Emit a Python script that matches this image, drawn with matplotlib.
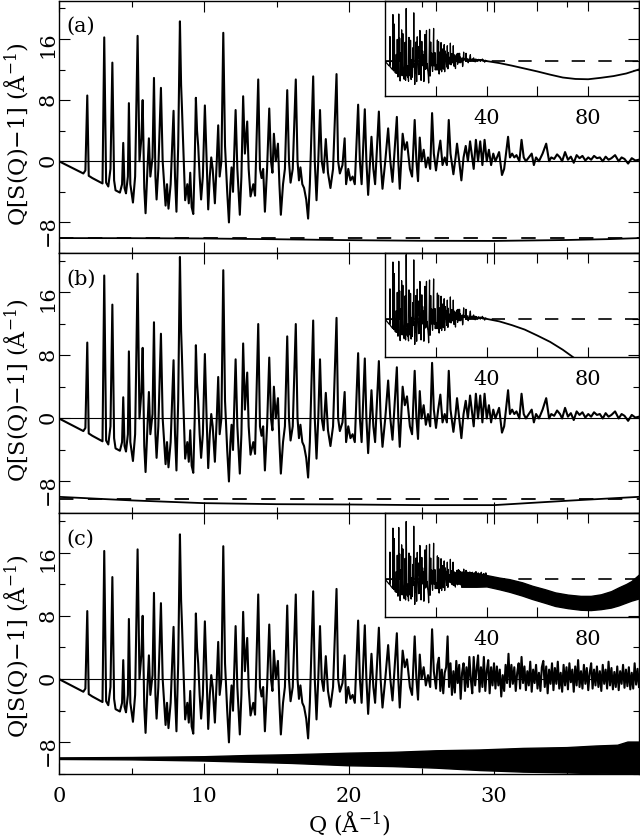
import matplotlib
matplotlib.use('Agg')
import matplotlib.pyplot as plt
import numpy as np
from matplotlib.ticker import FixedLocator, MultipleLocator, NullFormatter

plt.rcParams['font.family'] = 'DejaVu Serif'
plt.rcParams['mathtext.fontset'] = 'dejavuserif'

# main curve Q[S(Q)-1], panel (a) (peaks and troughs)
q_main = [
    0.00, 1.68, 1.82, 1.95, 2.05, 2.30, 2.70, 3.00, 3.12, 3.25,
    3.40, 3.55, 3.68, 3.80, 3.90, 4.20, 4.35, 4.43, 4.52, 4.62,
    4.75, 4.82, 4.92, 5.10, 5.25, 5.42, 5.55, 5.68, 5.77, 5.88,
    5.97, 6.10, 6.20, 6.30, 6.45, 6.55, 6.65, 6.73, 6.85, 7.03,
    7.15, 7.25, 7.35, 7.45, 7.55, 7.70, 7.90, 8.00, 8.10, 8.22,
    8.34, 8.42, 8.48, 8.55, 8.70, 8.85, 8.95, 9.05, 9.15, 9.26,
    9.36, 9.44, 9.52, 9.60, 9.70, 9.80, 9.92, 10.06, 10.18, 10.29,
    10.40, 10.50, 10.60, 10.75, 10.88, 10.98, 11.08, 11.20, 11.33, 11.45,
    11.60, 11.72, 11.82, 11.90, 12.00, 12.18, 12.30, 12.47, 12.58, 12.70,
    12.82, 12.98, 13.08, 13.21, 13.40, 13.52, 13.74, 13.86, 13.97, 14.08,
    14.20, 14.35, 14.50, 14.62, 14.72, 14.82, 14.95, 15.10, 15.20, 15.30,
    15.45, 15.58, 15.74, 15.86, 15.97, 16.12, 16.33, 16.45, 16.55, 16.65,
    16.78, 16.90, 17.05, 17.18, 17.30, 17.53, 17.64, 17.76, 17.88, 18.00,
    18.12, 18.25, 18.40, 18.55, 18.72, 18.90, 19.14, 19.25, 19.37, 19.55,
    19.70, 19.80, 19.95, 20.10, 20.25, 20.40, 20.63, 20.75, 20.87, 21.09,
    21.20, 21.32, 21.55, 21.68, 21.80, 22.06, 22.18, 22.31, 22.50, 22.70,
    22.85, 23.00, 23.30, 23.40, 23.50, 23.70, 23.85, 24.00, 24.20, 24.35,
    24.53, 24.65, 24.76, 24.88, 25.00, 25.15, 25.30, 25.45, 25.60, 25.73,
    25.85, 26.00, 26.15, 26.30, 26.45, 26.60, 26.75, 26.88, 27.00, 27.20,
    27.35, 27.45, 27.60, 27.75, 27.90, 28.05, 28.20, 28.35, 28.50, 28.60,
    28.75, 28.90, 29.05, 29.20, 29.35, 29.50, 29.65, 29.80, 29.95, 30.10,
    30.35, 30.55, 30.70, 30.97, 31.10, 31.25, 31.40, 31.55, 31.75, 31.90,
    32.05, 32.20, 32.40, 32.60, 32.75, 32.90, 33.10, 33.35, 33.60, 33.80,
    33.95, 34.15, 34.35, 34.55, 34.70, 34.90, 35.10, 35.30, 35.50, 35.70,
    35.90, 36.10, 36.30, 36.50, 36.70, 36.90, 37.10, 37.30, 37.50, 37.70,
    37.90, 38.10, 38.35, 38.60, 38.80, 39.00, 39.25, 39.50, 39.75, 40.00]
s_main = [
    0.0, -1.6, -1.2, 8.6, -1.9, -2.2, -2.6, -2.9, 16.2, -2.8,
    -3.3, -1.0, 12.9, -2.5, -3.8, -4.1, -3.0, 2.4, -3.5, -4.2,
    -2.0, 7.6, -3.0, -5.4, -2.0, 16.4, 0.0, 3.0, 8.0, -3.5,
    -6.8, -1.0, 3.0, -2.0, 0.5, 10.9, -2.0, -5.0, -1.0, 9.6,
    0.0, -3.0, -5.8, -3.0, -6.2, -3.0, 6.6, -2.0, -6.6, 2.0,
    18.3, 10.0, 7.0, 3.0, -5.1, -3.0, -5.5, -1.5, -6.0, -6.9,
    0.0, 8.3, 4.0, 2.0, -2.0, -5.0, -2.0, 7.3, 0.0, -6.3,
    -2.0, 0.5, -1.0, -5.5, 0.0, 4.7, -2.0, 0.0, 16.8, 2.0,
    -4.0, -8.0, -3.0, -0.8, -4.0, 6.7, -1.0, -7.0, -2.0, 8.5,
    1.0, 5.2, -1.0, -4.6, -3.0, -4.5, 10.7, -1.0, -2.2, -1.0,
    -6.6, -1.0, 6.9, 0.0, -1.5, 3.6, 0.0, 2.3, -3.0, -7.0,
    -3.0, -1.0, 9.3, 0.0, -2.8, -1.0, 10.7, 0.0, -2.5, -0.8,
    -3.0, -3.5, -5.0, -7.5, -3.0, 11.1, 0.0, -5.1, 0.0, 6.7,
    0.0, -1.5, 2.9, -1.5, -3.5, -1.0, 11.4, 0.0, -1.6, -0.5,
    3.0, -3.0, -1.0, -2.5, -2.0, -3.0, 7.4, 0.0, -3.0, 6.8,
    0.0, -4.4, 3.2, -1.0, -3.0, 6.5, 0.0, -3.6, 0.0, 4.3,
    0.0, -2.7, 5.8, 0.0, -3.6, 3.6, 1.5, 2.5, -1.0, -2.0,
    5.4, 0.0, -2.6, 3.1, 0.0, 1.5, -0.8, 0.5, -1.0, 6.3,
    1.0, -1.2, 1.0, 2.7, -0.5, 0.5, -0.5, 5.4, 1.0, -1.7,
    0.5, 2.3, 0.0, -2.5, 0.5, 2.0, 0.0, 2.6, 0.5, -1.0,
    2.8, 0.0, 2.6, -0.5, 2.8, 0.0, 1.5, -0.5, 1.0, 0.0,
    1.2, -1.8, -1.0, 3.2, 0.5, 1.0, 0.5, 0.8, 0.0, 2.8,
    0.5, 0.0, 0.5, 1.0, -0.5, 0.5, 0.0, 1.0, 2.3, 0.0,
    0.5, 0.3, 0.9, 0.5, 0.0, 1.2, 0.2, 0.6, -0.2, 0.8,
    0.4, 0.7, 0.1, 0.5, 0.2, 0.7, 0.4, 0.5, 0.0, 0.6,
    0.2, 0.4, 0.8, 0.0, 0.5, 0.3, -0.3, 0.4, 0.1, 0.2]

# panel (b): positive peaks read about 12 % taller than in (a)
b_peak_scale = 1.12

# panel (c): noisy tail above Q = 26, sampled every 0.1
q_c_tail = np.round(np.arange(26.0, 40.05, 0.1), 2)
s_c_tail = [
    -1.2, 1.8, 2.7, -1.5, 1.2, -1.8, 0.8, 1.5, 5.4, -1.0, 2.0,
    -2.0, 1.0, -1.7, 2.3, -0.5, 1.8, -2.5, 0.8, 2.0, -1.5,
    1.5, -1.0, 2.8, 0.0, -1.8, 2.8, -0.8, 1.2, 3.0, -1.6,
    1.5, -1.0, 2.8, -1.5, 1.0, 2.4, -1.8, 1.5, -0.8, 2.0,
    -1.2, 1.6, -0.8, 1.2, -2.2, 0.5, -1.5, 1.8, -0.5, 3.2,
    -1.0, 1.8, -0.6, 1.5, -1.5, 0.8, 2.0, -1.2, 2.8, -0.5,
    1.6, -1.4, 1.0, -0.8, 2.2, -1.6, 1.2, -0.5, 1.8, -1.2,
    0.8, -1.5, 1.5, 2.3, -1.0, 1.6, -1.8, 1.2, -0.6, 2.0,
    -1.4, 1.4, -0.6, 2.2, -1.2, 0.8, -1.6, 1.8, -0.8, 1.5,
    -1.3, 2.0, -0.4, 1.2, -1.6, 1.6, -0.8, 2.4, -1.0, 1.0,
    -1.2, 1.8, -0.6, 1.4, -1.4, 0.8, 2.0, -1.2, 1.2, -0.8,
    1.6, -1.0, 1.0, -1.5, 1.8, -0.6, 1.2, -1.2, 2.2, -0.8,
    1.4, -1.3, 0.9, -1.0, 1.6, -1.4, 1.0, -0.6, 1.8, -1.1,
    1.2, -0.9, 1.5, -1.3, 0.8, -1.2, 2.0, -0.7, 1.3, -1.0]

# lower reference curves
q_base = [0, 5, 10, 15, 20, 25, 30, 35, 38, 40]
base_a = [-10.05, -10.06, -10.1, -10.2, -10.32, -10.4, -10.42, -10.3, -10.18, -10.05]
base_b = [-9.95, -10.4, -10.75, -10.88, -10.92, -11.0, -11.0, -10.45, -10.15, -9.95]
q_band_c = [0, 5, 10, 13, 16, 20, 23, 26, 29, 32, 35, 37, 38.5, 39.2, 40]
band_c_up = [-9.9, -9.85, -9.75, -9.6, -9.5, -9.3, -9.2, -9.0, -8.9, -8.7, -8.6, -8.4,
             -8.3, -7.9, -7.9]
band_c_lo = [-10.1, -10.15, -10.3, -10.45, -10.6, -10.9, -11.0, -11.2, -11.5, -11.7,
             -11.8, -11.9, -11.95, -12.0, -12.0]
dash_a = -10.1
dash_b = -10.16

# insets, Q up to 100
q_ins_a = [40, 45, 50, 55, 60, 65, 70, 75, 80, 85, 90, 95, 100]
ins_a = [0.1, -0.6, -1.5, -2.5, -3.5, -4.6, -5.6, -6.1, -6.2, -5.7, -5.1, -4.2, -2.8]
q_ins_b = [40, 45, 50, 55, 60, 65, 70, 75, 78]
ins_b = [0.1, -0.7, -1.9, -3.3, -5.2, -7.2, -9.7, -12.6, -14.5]
q_ins_c = [30, 33, 36, 40, 45, 49, 54, 58, 63, 67, 72, 77, 81, 85, 89, 92, 95, 97, 100]
ins_c_up = [2.4, 2.2, 1.8, 1.3, 0.5, 0.0, -1.0, -2.1, -3.2, -4.2, -4.9, -5.3, -5.3,
            -4.8, -3.8, -2.6, -1.5, -0.6, 1.5]
ins_c_lo = [-2.4, -2.4, -2.4, -2.3, -3.2, -4.0, -5.2, -6.3, -7.5, -8.5, -9.2, -9.7, -9.8,
            -9.5, -9.0, -8.3, -7.4, -6.8, -6.1]

panel_names = ['(a)', '(b)', '(c)']
ylabel = 'Q[S(Q)\u22121] (Å$^{-1}$)'
xlabel = 'Q (Å$^{-1}$)'

# build the three main curves
q_a = np.array(q_main)
s_a = np.array(s_main)
s_b = np.where(s_a > 0, s_a * b_peak_scale, s_a)
keep = q_a < 26
q_c = np.concatenate([q_a[keep], q_c_tail])
s_c = np.concatenate([s_a[keep], s_c_tail])

W, H = 640.0, 838.0


def px_rect(x0, y0, w, h):
    return [x0 / W, 1 - (y0 + h) / H, w / W, h / H]


fig = plt.figure(figsize=(6.4, 8.38), dpi=100)

main_rects = [px_rect(59, 0.7, 580, 252.3), px_rect(59, 253, 580, 260),
              px_rect(59, 513, 580, 261)]
inset_rects = [px_rect(385, 0.7, 254, 95.3), px_rect(385, 253, 254, 104),
               px_rect(385, 513, 254, 104)]
ylabel_y = [134, 390, 646]

curves = [(q_a, s_a), (q_a, s_b), (q_c, s_c)]

for i in range(3):
    ax = fig.add_axes(main_rects[i])
    q, s = curves[i]
    ax.axhline(0, color='k', lw=0.8, zorder=2)
    ax.plot(q, s, color='k', lw=1.5, zorder=3)

    if i == 0:
        ax.axhline(dash_a, color='k', lw=1.3, dashes=(8, 8))
        ax.plot(q_base, base_a, color='k', lw=1.3)
    elif i == 1:
        ax.axhline(dash_b, color='k', lw=1.3, dashes=(8, 8))
        ax.plot(q_base, base_b, color='k', lw=1.3)
    else:
        ax.fill_between(q_band_c, band_c_lo, band_c_up, color='k', lw=1.0)

    ax.set_xlim(0, 40)
    ax.set_ylim(-12, 21)
    ax.xaxis.set_major_locator(FixedLocator([0, 10, 20, 30]))
    ax.xaxis.set_minor_locator(FixedLocator([5, 15, 25, 35]))
    ax.yaxis.set_major_locator(MultipleLocator(8))
    ax.yaxis.set_minor_locator(MultipleLocator(4))
    ax.tick_params(which='both', direction='in', top=True, right=True, width=0.8)
    ax.tick_params(which='major', length=7.7)
    ax.tick_params(which='minor', length=4.2)
    ax.tick_params(axis='x', labelsize=15, pad=9.5, labelbottom=(i == 2))
    ax.tick_params(axis='y', labelsize=15, pad=1, labelrotation=90)
    for sp in ax.spines.values():
        sp.set_linewidth(1.0)
    ax.text(0.013, 0.9, panel_names[i], transform=ax.transAxes, fontsize=15,
            ha='left', va='center')
    fig.text(17 / W, 1 - ylabel_y[i] / H, ylabel, rotation=90, ha='center',
             va='center', fontsize=16)

    # inset with the full Q range
    axi = fig.add_axes(inset_rects[i])
    axi.set_facecolor('none')
    axi.plot(q, s, color='k', lw=0.9)
    axi.axhline(0, color='k', lw=1.2, dashes=(8, 8))
    if i == 0:
        axi.plot(q_ins_a, ins_a, color='k', lw=1.3)
    elif i == 1:
        axi.plot(q_ins_b, ins_b, color='k', lw=1.3)
    else:
        axi.fill_between(q_ins_c, ins_c_lo, ins_c_up, color='k', lw=1.0)
    axi.set_xlim(0, 100)
    axi.set_ylim(-12, 21)
    axi.xaxis.set_major_locator(FixedLocator([20, 40, 60, 80]))
    axi.set_xticklabels(['', '40', '', '80'])
    axi.yaxis.set_major_locator(FixedLocator([0]))
    axi.yaxis.set_major_formatter(NullFormatter())
    axi.tick_params(which='both', direction='in', top=True, right=True, width=0.8)
    axi.tick_params(axis='x', length=7, labelsize=15, pad=9.5)
    axi.tick_params(axis='y', length=5)
    for sp in axi.spines.values():
        sp.set_linewidth(1.0)

fig.text(349 / W, 1 - 832 / H, xlabel, ha='center', va='baseline', fontsize=16)

fig.savefig('out.png', dpi=100)
